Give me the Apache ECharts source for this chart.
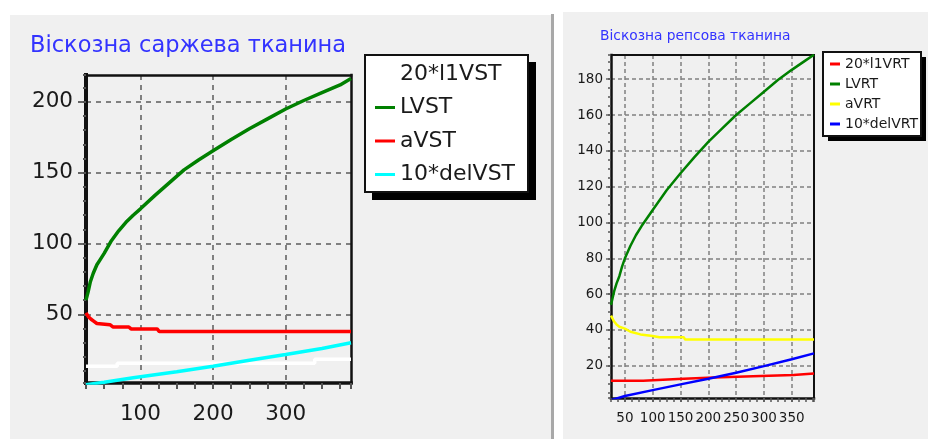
<!DOCTYPE html>
<html>
<head>
<meta charset="utf-8">
<script src="https://cdn.jsdelivr.net/npm/echarts@6/dist/echarts.min.js"></script>
<style>
  html, body { margin: 0; padding: 0; background: #ffffff; }
  #chart { width: 928px; height: 439px; }
</style>
</head>
<body>
<div id="chart"></div>
<script>
// ---- Twill viscose fabric (left panel) ----
const twillTitle = 'Віскозна саржева тканина';
const twillNames = ['20*l1VST', 'LVST', 'aVST', '10*delVST'];
const twillColors = ['#ffffff', '#008000', '#ff0000', '#00ffff'];

const l1VST_x = [25, 68, 340, 390];
const l1VST_y = [13.4, 15.5, 18.3, 18.3];

const LVST_x = [25, 28, 31, 35, 40, 45, 50, 60, 70, 80, 90, 100, 120, 140, 160, 180, 200, 225, 250, 275, 300, 325, 350, 375, 390];
const LVST_y = [60, 66, 73, 79, 85, 89, 93, 102, 109, 115, 120, 124.5, 134, 143, 152, 159, 165.5, 173.5, 181, 188, 195, 201, 206.6, 212, 216.6];

const aVST_x = [25, 28, 32, 36, 40, 58, 62, 84, 87, 123, 126, 390];
const aVST_y = [51, 48.5, 46.5, 45, 43.5, 42.7, 41.1, 41.1, 39.7, 39.7, 37.8, 37.8];

const delVST_x = [25, 50, 90, 150, 200, 250, 300, 350, 390];
const delVST_y = [0.2, 2.1, 5.2, 9.4, 13.4, 17.5, 21.6, 25.8, 29.9];

// ---- Rep viscose fabric (right panel) ----
const repsTitle = 'Віскозна репсова тканина';
const repsNames = ['20*l1VRT', 'LVRT', 'aVRT', '10*delVRT'];
const repsColors = ['#ff0000', '#008000', '#ffff00', '#0000ff'];

const l1VRT_x = [25, 83, 145, 210, 280, 353, 390];
const l1VRT_y = [11.6, 12.6, 13.4, 14.1, 14.8, 15.7, 15.7];

const LVRT_x = [25, 28, 31, 35, 40, 45, 50, 60, 70, 80, 90, 100, 125, 150, 175, 200, 225, 250, 275, 300, 325, 350, 375, 390];
const LVRT_y = [54, 58, 62, 66, 70, 75.5, 80, 87, 93, 98, 102.5, 107, 118, 127.5, 136.5, 145, 152.5, 160, 166.5, 173, 179.5, 185.2, 190.5, 193.6];

const aVRT_x = [25, 30, 35, 40, 50, 60, 78, 100, 112, 156, 158, 390];
const aVRT_y = [48, 45, 43, 41.8, 40.7, 39, 37.5, 36.6, 35.9, 35.9, 34.7, 34.7];

const delVRT_x = [25, 50, 100, 150, 200, 250, 300, 350, 390];
const delVRT_y = [0.8, 3.1, 6.4, 9.6, 12.8, 16.1, 19.8, 23.6, 26.9];

// ---- axis ranges ----
const twillXRange = [25, 390];
const twillYRange = [1.5, 219];
const repsXRange = [25, 390];
const repsYRange = [2, 193.5];

const FONT = 'DejaVu Sans';

function pairs(xs, ys) {
  return xs.map((x, i) => [x, ys[i]]);
}

// axis carrying labels and dashed grid lines
function majorAxis(kind, grid, range, splitNumber, o) {
  return {
    type: 'value', gridIndex: grid, position: kind === 'x' ? 'bottom' : 'left',
    min: range[0], max: range[1], splitNumber: splitNumber,
    axisLine: { show: true, onZero: false, lineStyle: { color: '#111', width: o.lineW, cap: 'square' } },
    axisTick: { show: true, length: o.tickLen, lineStyle: { color: '#666', width: o.tickW } },
    axisLabel: {
      showMinLabel: false, showMaxLabel: false, margin: o.margin,
      fontFamily: FONT, fontSize: o.fontSize, color: '#1a1a1a'
    },
    splitLine: { show: true, showMinLine: false, showMaxLine: false,
      lineStyle: { color: '#808080', width: o.gridW, type: o.dash } }
  };
}

// axis drawing only the small intermediate ticks
function minorAxis(kind, grid, range, opts, o) {
  const ax = {
    type: 'value', gridIndex: grid, position: kind === 'x' ? 'bottom' : 'left',
    min: range[0], max: range[1],
    axisLine: { show: false },
    axisTick: { show: true, length: o.len, lineStyle: { color: '#555', width: o.w } },
    axisLabel: { show: false },
    splitLine: { show: false }
  };
  return Object.assign(ax, opts);
}

// top / right edge of the plot frame
function frameAxis(kind, grid, range, w) {
  return {
    type: 'value', gridIndex: grid, position: kind === 'x' ? 'top' : 'right',
    min: range[0], max: range[1],
    axisLine: { show: true, onZero: false, lineStyle: { color: '#111', width: w, cap: 'square' } },
    axisTick: { show: false }, axisLabel: { show: false }, splitLine: { show: false }
  };
}

function lineSeries(name, color, xs, ys, xi, yi, width, step) {
  return {
    type: 'line', name: name, xAxisIndex: xi, yAxisIndex: yi,
    data: pairs(xs, ys), showSymbol: false, symbol: 'none', step: step || false,
    lineStyle: { color: color, width: width }, itemStyle: { color: color },
    emphasis: { disabled: true }, animation: false
  };
}

const chart = echarts.init(document.getElementById('chart'), null, { renderer: 'canvas' });

chart.setOption({
  backgroundColor: '#ffffff',
  animation: false,
  graphic: [
    // window panels and splitter
    { type: 'rect', z: -10, shape: { x: 10, y: 15, width: 541, height: 424 }, style: { fill: '#f0f0f0' } },
    { type: 'rect', z: -10, shape: { x: 551, y: 14, width: 3, height: 425 }, style: { fill: '#a8a8a8' } },
    { type: 'rect', z: -10, shape: { x: 563, y: 12, width: 365, height: 427 }, style: { fill: '#f0f0f0' } },
    // legend boxes with drop shadows
    { type: 'rect', z: 1, shape: { x: 372, y: 62, width: 164, height: 138 }, style: { fill: '#000' } },
    { type: 'rect', z: 1, shape: { x: 365, y: 55, width: 163, height: 137 }, style: { fill: '#fff', stroke: '#111', lineWidth: 2 } },
    { type: 'rect', z: 1, shape: { x: 828, y: 57, width: 98, height: 84 }, style: { fill: '#000' } },
    { type: 'rect', z: 1, shape: { x: 823, y: 52, width: 98, height: 84 }, style: { fill: '#fff', stroke: '#111', lineWidth: 2 } }
  ],
  title: [
    { text: twillTitle, left: 30, top: 35, padding: 0,
      textStyle: { fontFamily: FONT, fontSize: 22.5, fontWeight: 'normal', color: '#3333ff' } },
    { text: repsTitle, left: 600, top: 29, padding: 0,
      textStyle: { fontFamily: FONT, fontSize: 13.8, fontWeight: 'normal', color: '#3333ff' } }
  ],
  legend: [
    {
      data: twillNames, orient: 'vertical', left: 364, top: 54,
      padding: [8, 12, 6, 11], itemGap: 9.5, itemWidth: 20, itemHeight: 3, icon: 'rect',
      selectedMode: false,
      textStyle: { fontFamily: FONT, fontSize: 22, lineHeight: 24, color: '#1a1a1a' }
    },
    {
      data: repsNames, orient: 'vertical', left: 823, top: 52,
      padding: [5, 5, 5, 7], itemGap: 6, itemWidth: 10, itemHeight: 3, icon: 'rect',
      selectedMode: false,
      textStyle: { fontFamily: FONT, fontSize: 14, lineHeight: 14, color: '#1a1a1a' }
    }
  ],
  grid: [
    { left: 86, top: 75, width: 265, height: 308, show: false },
    { left: 611, top: 55, width: 203, height: 343, show: false }
  ],
  xAxis: [
    majorAxis('x', 0, twillXRange, 4, { lineW: 3.5, tickLen: 6, tickW: 2, margin: 20, fontSize: 21.5, gridW: 2, dash: [5, 5] }),
    minorAxis('x', 0, twillXRange, { interval: 25 }, { len: 6, w: 2 }),
    frameAxis('x', 0, twillXRange, 2.5),
    majorAxis('x', 1, repsXRange, 7, { lineW: 2.5, tickLen: 4, tickW: 1.5, margin: 13, fontSize: 13.5, gridW: 1.5, dash: [4, 3] }),
    minorAxis('x', 1, repsXRange, { interval: 12.5 }, { len: 4, w: 1.5 }),
    frameAxis('x', 1, repsXRange, 2)
  ],
  yAxis: [
    majorAxis('y', 0, twillYRange, 4, { lineW: 4, tickLen: 8, tickW: 2, margin: 13, fontSize: 21.5, gridW: 2, dash: [5, 5] }),
    minorAxis('y', 0, twillYRange, { splitNumber: 22 }, { len: 3, w: 2 }),
    frameAxis('y', 0, twillYRange, 2.5),
    majorAxis('y', 1, repsYRange, 10, { lineW: 2.5, tickLen: 5, tickW: 1.5, margin: 8, fontSize: 13.5, gridW: 1.5, dash: [4, 3] }),
    minorAxis('y', 1, repsYRange, { splitNumber: 38 }, { len: 3, w: 1.5 }),
    frameAxis('y', 1, repsYRange, 2)
  ],
  series: [
    lineSeries(twillNames[0], twillColors[0], l1VST_x, l1VST_y, 0, 0, 3.5, 'end'),
    lineSeries(twillNames[1], twillColors[1], LVST_x, LVST_y, 0, 0, 3.5),
    lineSeries(twillNames[2], twillColors[2], aVST_x, aVST_y, 0, 0, 3.5),
    lineSeries(twillNames[3], twillColors[3], delVST_x, delVST_y, 0, 0, 3.5),
    lineSeries(repsNames[0], repsColors[0], l1VRT_x, l1VRT_y, 3, 3, 2.5, 'end'),
    lineSeries(repsNames[1], repsColors[1], LVRT_x, LVRT_y, 3, 3, 2.5),
    lineSeries(repsNames[2], repsColors[2], aVRT_x, aVRT_y, 3, 3, 2.5),
    lineSeries(repsNames[3], repsColors[3], delVRT_x, delVRT_y, 3, 3, 2.5)
  ]
});
</script>
</body>
</html>
